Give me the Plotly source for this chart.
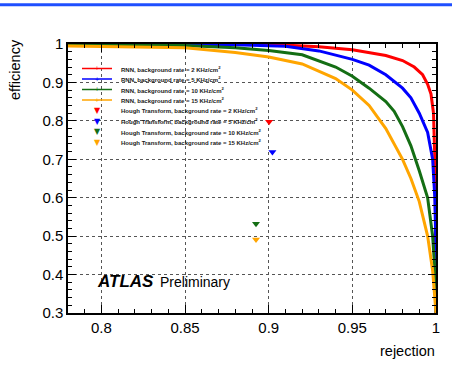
import plotly.graph_objects as go

# ---------------- data ----------------
rnn_labels = [
    "RNN, background rate = 2 KHz/cm<sup>2</sup>",
    "RNN, background rate = 5 KHz/cm<sup>2</sup>",
    "RNN, background rate = 10 KHz/cm<sup>2</sup>",
    "RNN, background rate = 15 KHz/cm<sup>2</sup>",
]
hough_labels = [
    "Hough Transform, background rate = 2 KHz/cm<sup>2</sup>",
    "Hough Transform, background rate = 5 KHz/cm<sup>2</sup>",
    "Hough Transform, background rate = 10 KHz/cm<sup>2</sup>",
    "Hough Transform, background rate = 15 KHz/cm<sup>2</sup>",
]

rej_2 = [0.78, 0.90, 0.93, 0.95, 0.97, 0.98, 0.987, 0.992, 0.995, 0.997, 0.9985, 0.9993, 0.9997, 1.0]
eff_2 = [1.0, 0.999, 0.993, 0.985, 0.970, 0.957, 0.940, 0.920, 0.895, 0.870, 0.820, 0.700, 0.550, 0.300]

rej_5 = [0.78, 0.88, 0.91, 0.93, 0.95, 0.96, 0.97, 0.98, 0.985, 0.99, 0.995, 0.998, 0.9993, 0.9998, 1.0]
eff_5 = [1.0, 0.998, 0.994, 0.982, 0.960, 0.945, 0.920, 0.885, 0.860, 0.820, 0.770, 0.700, 0.600, 0.500, 0.300]

rej_10 = [0.78, 0.85, 0.88, 0.90, 0.92, 0.94, 0.95, 0.96, 0.97, 0.975, 0.98, 0.985, 0.99, 0.995, 0.998, 0.9995, 1.0]
eff_10 = [0.999, 0.996, 0.990, 0.983, 0.972, 0.940, 0.916, 0.885, 0.850, 0.825, 0.785, 0.735, 0.670, 0.600, 0.500, 0.400, 0.300]

rej_15 = [0.78, 0.82, 0.85, 0.88, 0.90, 0.92, 0.94, 0.95, 0.96, 0.97, 0.98, 0.985, 0.99, 0.995, 0.998, 1.0]
eff_15 = [0.995, 0.993, 0.990, 0.978, 0.966, 0.948, 0.910, 0.880, 0.840, 0.780, 0.700, 0.650, 0.590, 0.500, 0.410, 0.300]

hough_rej = [0.9002, 0.9022, 0.8924, 0.8924]
hough_eff = [0.798, 0.719, 0.532, 0.491]

x_tickvals = [0.8, 0.85, 0.9, 0.95, 1.0]
x_ticktext = ["0.8", "0.85", "0.9", "0.95", "1"]
y_tickvals = [0.3, 0.4, 0.5, 0.6, 0.7, 0.8, 0.9, 1.0]
y_ticktext = ["0.3", "0.4", "0.5", "0.6", "0.7", "0.8", "0.9", "1"]

colors = ["#ff0000", "#0000ff", "#146e14", "#ffa500"]

# ---------------- figure ----------------
W, H = 452, 387
ML, MR, MT, MB = 68, 16, 44, 74
PW, PH = W - ML - MR, H - MT - MB


def px_x(p):
    return (p - ML) / PW


def px_y(p):
    return (H - MB - p) / PH


fig = go.Figure()
for rx, ey, c, lab in zip([rej_2, rej_5, rej_10, rej_15],
                          [eff_2, eff_5, eff_10, eff_15], colors, rnn_labels):
    fig.add_trace(go.Scatter(x=rx, y=ey, mode="lines", name=lab,
                             line=dict(color=c, width=3), showlegend=False))

for i in range(4):
    fig.add_trace(go.Scatter(x=[hough_rej[i]], y=[hough_eff[i]], mode="markers",
                             name=hough_labels[i],
                             marker=dict(symbol="triangle-down", size=7, color=colors[i]),
                             showlegend=False))

font = "Liberation Sans, Arial, Helvetica, sans-serif"
axis_common = dict(
    showline=True, linecolor="black", linewidth=1.5, mirror="ticks",
    ticks="inside", ticklen=8, tickcolor="black", tickwidth=1,
    showgrid=True, gridcolor="#555555", griddash="dot", gridwidth=1,
    zeroline=False, tickfont=dict(size=15, color="black", family=font),
)
fig.update_xaxes(range=[0.78, 1.0], tickvals=x_tickvals, ticktext=x_ticktext,
                 minor=dict(dtick=0.01, tick0=0.78, ticks="inside", ticklen=4,
                            tickcolor="black", showgrid=False),
                 **axis_common)
fig.update_yaxes(range=[0.3, 1.0], tickvals=y_tickvals, ticktext=y_ticktext,
                 minor=dict(dtick=0.02, tick0=0.3, ticks="inside", ticklen=4,
                            tickcolor="black", showgrid=False),
                 **axis_common)

shapes = []
annotations = []

# top blue banner line
shapes.append(dict(type="line", xref="paper", yref="paper",
                   x0=px_x(0), x1=px_x(W), y0=px_y(4.7), y1=px_y(4.7),
                   line=dict(color="#1f4fff", width=3)))

# manual legend
rows = [68.5, 79, 89.5, 100, 110.5, 121, 131.5, 142]
legend_text = rnn_labels + hough_labels
for k, (ry, lab) in enumerate(zip(rows, legend_text)):
    c = colors[k % 4]
    if k < 4:
        shapes.append(dict(type="line", xref="paper", yref="paper",
                           x0=px_x(82), x1=px_x(112), y0=px_y(ry), y1=px_y(ry),
                           line=dict(color=c, width=1.5)))
        annotations.append(dict(xref="paper", yref="paper", x=px_x(97), y=px_y(ry),
                                text="+", showarrow=False,
                                font=dict(size=7, color=c, family=font),
                                xanchor="center", yanchor="middle"))
    else:
        annotations.append(dict(xref="paper", yref="paper", x=px_x(97), y=px_y(ry),
                                text="▼", showarrow=False,
                                font=dict(size=8, color=c, family="DejaVu Sans"),
                                xanchor="center", yanchor="middle"))
    annotations.append(dict(xref="paper", yref="paper", x=px_x(119), y=px_y(ry),
                            text="<b>" + lab + "</b>", showarrow=False,
                            font=dict(size=6, color="#222222", family=font),
                            xanchor="left", yanchor="middle"))

# ATLAS label
annotations.append(dict(xref="paper", yref="paper", x=px_x(95), y=px_y(281),
                        text="<b><i>ATLAS</i></b>", showarrow=False,
                        font=dict(size=17, color="black", family=font),
                        xanchor="left", yanchor="middle"))
annotations.append(dict(xref="paper", yref="paper", x=px_x(158), y=px_y(282),
                        text="Preliminary", showarrow=False,
                        font=dict(size=14, color="black", family=font),
                        xanchor="left", yanchor="middle"))

# axis titles
annotations.append(dict(xref="paper", yref="paper", x=px_x(437), y=px_y(351),
                        text="rejection", showarrow=False,
                        font=dict(size=14.5, color="black", family=font),
                        xanchor="right", yanchor="middle"))
annotations.append(dict(xref="paper", yref="paper", x=px_x(15), y=px_y(70),
                        text="efficiency", showarrow=False, textangle=-90,
                        font=dict(size=14.5, color="black", family=font),
                        xanchor="center", yanchor="middle"))

fig.update_layout(
    width=W, height=H,
    margin=dict(l=ML, r=MR, t=MT, b=MB, pad=0),
    paper_bgcolor="white", plot_bgcolor="white",
    font=dict(family=font, color="black"),
    shapes=shapes, annotations=annotations,
    showlegend=False,
)

fig.write_html("out.html", config={"displayModeBar": False},
               post_script="document.body.style.margin='0';document.body.style.padding='0';")
